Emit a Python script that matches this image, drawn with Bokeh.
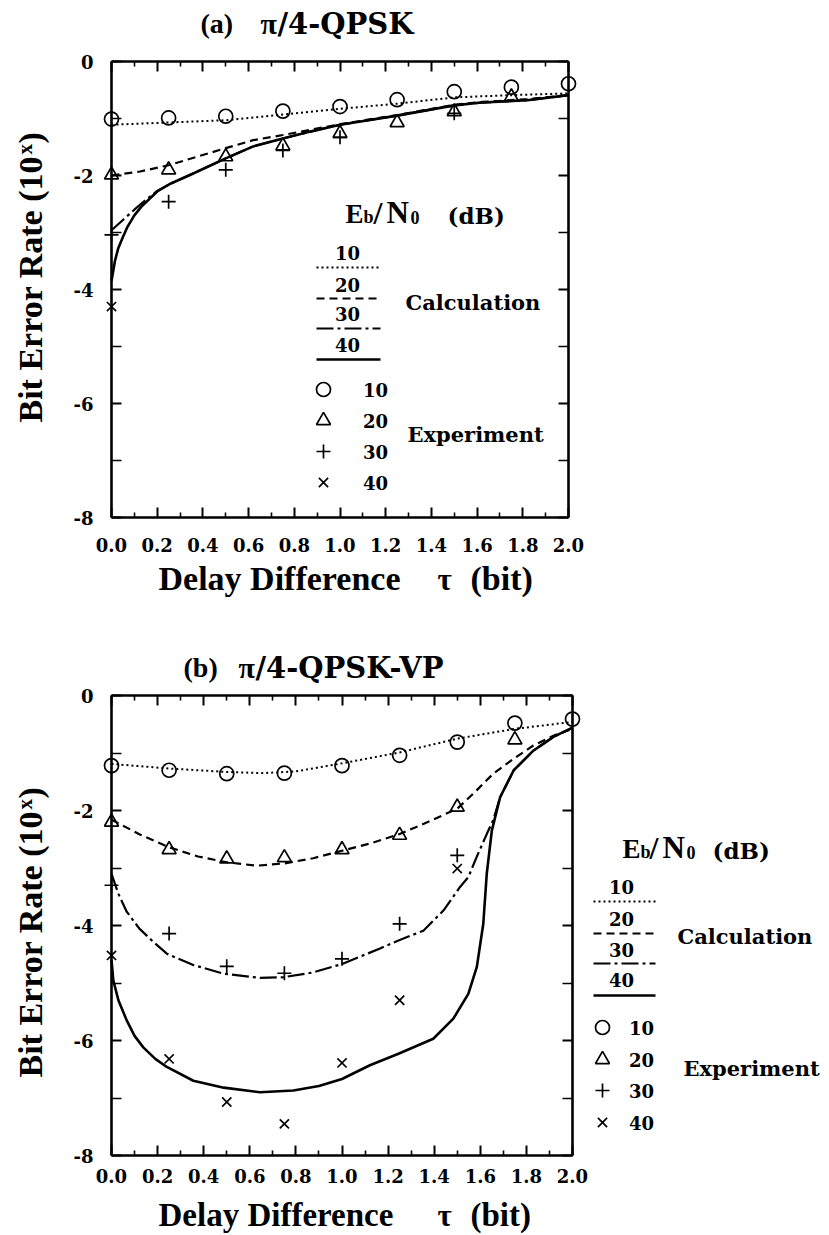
import math

from bokeh.plotting import figure
from bokeh.layouts import column
from bokeh.models import Range1d, LinearAxis, FixedTicker, Label
from bokeh.embed import file_html
from bokeh.resources import INLINE

# ---------------------------------------------------------------- data
# Delay difference tau (bit) and log10(bit error rate) for each Eb/N0 level.

# (a) pi/4-QPSK -- measurements
a_exp10_tau = [0.0, 0.25, 0.5, 0.75, 1.0, 1.25, 1.5, 1.75, 2.0]
a_exp10 = [-1.01, -0.99, -0.96, -0.87, -0.79, -0.67, -0.53, -0.45, -0.39]
a_exp20_tau = [0.0, 0.25, 0.5, 0.75, 1.0, 1.25, 1.5, 1.75]
a_exp20 = [-1.99, -1.90, -1.67, -1.48, -1.26, -1.07, -0.88, -0.62]
a_exp30_tau = [0.0, 0.25, 0.5, 0.75, 1.0, 1.5]
a_exp30 = [-3.04, -2.46, -1.90, -1.56, -1.33, -0.91]
a_exp40_tau = [0.0]
a_exp40 = [-4.30]

# (a) pi/4-QPSK -- calculation
a_calc10_tau = [0.0, 0.25, 0.5, 0.75, 1.0, 1.25, 1.5, 1.75, 2.0]
a_calc10 = [-1.11, -1.07, -1.03, -0.93, -0.83, -0.74, -0.63, -0.59, -0.56]
a_calc20_tau = [0.0, 0.125, 0.25, 0.375, 0.5, 0.62, 0.75, 0.87, 1.0, 1.25, 1.5, 1.62, 1.82, 2.0]
a_calc20 = [-2.0, -1.93, -1.82, -1.67, -1.52, -1.38, -1.29, -1.2, -1.1, -0.94, -0.76, -0.71, -0.66, -0.59]
a_calc30_tau = [0.0, 0.05, 0.1, 0.15, 0.2, 0.26, 0.36, 0.5, 0.62, 0.75, 0.87, 1.0, 1.25, 1.5, 1.62, 1.82, 2.0]
a_calc30 = [-2.96, -2.78, -2.6, -2.43, -2.27, -2.14, -1.96, -1.70, -1.49, -1.35, -1.23, -1.11, -0.95, -0.77, -0.72,
            -0.68, -0.59]
a_calc40_tau = [0.0, 0.015, 0.03, 0.05, 0.07, 0.1, 0.13, 0.2, 0.26, 0.36, 0.5, 0.62, 0.75, 0.87, 1.0, 1.25, 1.5,
                1.62, 1.82, 2.0]
a_calc40 = [-3.85, -3.5, -3.27, -3.08, -2.9, -2.7, -2.55, -2.28, -2.14, -1.96, -1.70, -1.49, -1.35, -1.23, -1.11,
            -0.95, -0.77, -0.72, -0.68, -0.59]

# (b) pi/4-QPSK-VP -- measurements
b_exp10_tau = [0.0, 0.25, 0.5, 0.75, 1.0, 1.25, 1.5, 1.75, 2.0]
b_exp10 = [-1.22, -1.30, -1.36, -1.35, -1.22, -1.04, -0.81, -0.48, -0.41]
b_exp20_tau = [0.0, 0.25, 0.5, 0.75, 1.0, 1.25, 1.5, 1.75]
b_exp20 = [-2.20, -2.68, -2.84, -2.82, -2.68, -2.43, -1.94, -0.77]
b_exp30_tau = [0.0, 0.25, 0.5, 0.75, 1.0, 1.25, 1.5]
b_exp30 = [-3.30, -4.14, -4.71, -4.83, -4.58, -3.97, -2.78]
b_exp40_tau = [0.0, 0.25, 0.5, 0.75, 1.0, 1.25, 1.5]
b_exp40 = [-4.52, -6.32, -7.07, -7.45, -6.39, -5.30, -3.01]

# (b) pi/4-QPSK-VP -- calculation
b_calc10_tau = [0.0, 0.25, 0.5, 0.65, 0.8, 1.0, 1.25, 1.5, 1.75, 2.0]
b_calc10 = [-1.19, -1.27, -1.33, -1.35, -1.32, -1.18, -0.99, -0.75, -0.58, -0.46]
b_calc20_tau = [0.0, 0.125, 0.25, 0.375, 0.5, 0.63, 0.75, 0.875, 1.0, 1.125, 1.25, 1.355, 1.5, 1.584, 1.656,
                1.745, 1.83, 1.917, 2.0]
b_calc20 = [-2.16, -2.42, -2.64, -2.80, -2.90, -2.96, -2.92, -2.83, -2.70, -2.57, -2.41, -2.23, -1.97, -1.65,
            -1.36, -1.10, -0.87, -0.70, -0.58]
b_calc30_tau = [0.0, 0.03, 0.066, 0.12, 0.18, 0.24, 0.35, 0.487, 0.644, 0.745, 0.87, 1.0, 1.165, 1.245, 1.353,
                1.44, 1.512, 1.548, 1.584, 1.628, 1.656, 1.686, 1.745, 1.83, 1.917, 2.0]
b_calc30 = [-3.10, -3.45, -3.76, -4.05, -4.28, -4.49, -4.68, -4.84, -4.91, -4.90, -4.82, -4.67, -4.40, -4.26,
            -4.09, -3.74, -3.33, -3.16, -2.81, -2.41, -2.17, -1.77, -1.30, -0.96, -0.72, -0.56]
b_calc40_tau = [0.0, 0.008, 0.03, 0.066, 0.1, 0.138, 0.19, 0.24, 0.355, 0.487, 0.644, 0.789, 0.9, 1.0, 1.121,
                1.245, 1.396, 1.483, 1.548, 1.585, 1.613, 1.628, 1.65, 1.686, 1.745, 1.83, 1.917, 2.0]
b_calc40 = [-4.6, -4.96, -5.3, -5.65, -5.92, -6.12, -6.32, -6.46, -6.70, -6.82, -6.90, -6.87, -6.79, -6.67, -6.43,
            -6.23, -5.97, -5.62, -5.19, -4.72, -3.97, -3.10, -2.35, -1.77, -1.30, -0.96, -0.72, -0.56]

# Eb/N0 levels (dB) and tick labels
levels = ["10", "20", "30", "40"]
x_major = [0.0, 0.2, 0.4, 0.6, 0.8, 1.0, 1.2, 1.4, 1.6, 1.8, 2.0]
x_minor = [0.1, 0.3, 0.5, 0.7, 0.9, 1.1, 1.3, 1.5, 1.7, 1.9]
x_tick_labels = ["0.0", "0.2", "0.4", "0.6", "0.8", "1.0", "1.2", "1.4", "1.6", "1.8", "2.0"]
y_major = [0, -2, -4, -6, -8]
y_minor = [-1, -3, -5, -7]
y_tick_labels = ["0", "-2", "-4", "-6", "-8"]

# ---------------------------------------------------------------- styling
TIMES = "Liberation Serif"
SLAB = "DejaVu Serif"
W = 829
MID = 0.34  # distance from the em-box middle up to the baseline, in em

CALC_DASH = ["2 3", "8 5", "17 4 3 4", "solid"]
CALC_WIDTH = [2.0, 2.2, 2.2, 2.6]
MARKERS = ["circle", "triangle", "cross", "x"]
MARKER_SIZE = [14, 14, 14, 13]


def panel(height, g):
    """Figure whose plotting area covers the whole canvas; the axis box is
    placed at page pixels x0..x2 (tau 0..2) and y0..y8 (0..-8)."""
    sx = (g["x2"] - g["x0"]) / 2.0
    sy = (g["y8"] - g["y0"]) / 8.0
    p = figure(width=W, height=height,
               x_range=Range1d(-g["x0"] / sx, (W - g["x0"]) / sx),
               y_range=Range1d((g["y0"] - g["top"] - height) / sy, (g["y0"] - g["top"]) / sy),
               output_backend="svg", toolbar_location=None,
               x_axis_location=None, y_axis_location=None,
               min_border=0, min_border_left=0, min_border_right=0,
               min_border_top=0, min_border_bottom=0)
    p.grid.visible = False
    p.outline_line_color = None
    p.background_fill_color = "white"
    p.border_fill_color = "white"

    def to_data(px, py):
        return (px - g["x0"]) / sx, (g["y0"] - py) / sy

    return p, to_data


def add_box_axes(p, g):
    xt = FixedTicker(ticks=x_major, minor_ticks=x_minor)
    yt = FixedTicker(ticks=y_major, minor_ticks=y_minor)
    base = dict(axis_line_width=2.6, axis_line_color="black",
                major_tick_line_width=2, minor_tick_line_width=1.6,
                major_tick_line_color="black", minor_tick_line_color="black",
                major_tick_out=0, minor_tick_out=0,
                major_label_text_font=SLAB, major_label_text_font_style="bold",
                major_label_text_font_size="18px", major_label_text_color="black")
    hidden = dict(base, major_label_text_color=None)

    bottom = LinearAxis(ticker=xt, fixed_location=-8, bounds=(0, 2),
                        major_tick_in=10, minor_tick_in=5,
                        major_label_overrides=dict(zip(x_major, x_tick_labels)),
                        major_label_standoff=g["xtick_standoff"], **base)
    top = LinearAxis(ticker=xt, fixed_location=0, bounds=(0, 2),
                     major_tick_in=10, minor_tick_in=5, **hidden)
    left = LinearAxis(ticker=yt, fixed_location=0, bounds=(-8, 0),
                      major_tick_in=10, minor_tick_in=10,
                      major_label_overrides=dict(zip(y_major, y_tick_labels)),
                      major_label_standoff=18, **base)
    right = LinearAxis(ticker=yt, fixed_location=2, bounds=(-8, 0),
                       major_tick_in=10, minor_tick_in=10, **hidden)
    p.add_layout(bottom, "below")
    p.add_layout(top, "above")
    p.add_layout(left, "left")
    p.add_layout(right, "right")


def add_curves(p, calc, meas):
    for (tx, ty), dash, lw in zip(calc, CALC_DASH, CALC_WIDTH):
        p.line(tx, ty, line_color="black", line_width=lw, line_dash=dash)
    for (tx, ty), mk, ms in zip(meas, MARKERS, MARKER_SIZE):
        p.scatter(tx, ty, marker=mk, size=ms, fill_color=None,
                  line_color="black", line_width=1.7)


def text(p, at, px, py, s, font, size, align="left", angle=0.0):
    """Text centred vertically on page pixel row py."""
    x, y = at(px, py)
    p.add_layout(Label(x=x, y=y, text=s, text_font=font, text_font_style="bold",
                       text_font_size=f"{size}px", text_color="black",
                       text_align=align, text_baseline="middle", angle=angle))


def on_baseline(p, at, px, base, s, font, size, align="left"):
    """Text sitting on the page pixel row base."""
    text(p, at, px, base - MID * size, s, font, size, align=align)


def draw_titles(p, at, t):
    # panel title
    b = t["title_base"]
    on_baseline(p, at, t["tag_x"], b, t["tag"], TIMES, 28)
    on_baseline(p, at, t["pi_x"], b, "π", TIMES, 30)
    on_baseline(p, at, t["pi_x"] + 17, b, t["name"], SLAB, 29)
    # x axis title
    xb = t["xlab_base"]
    on_baseline(p, at, 158, xb, "Delay Difference", TIMES, t["xlab_size"])
    on_baseline(p, at, t["tau_x"], xb, "τ", TIMES, 31)
    on_baseline(p, at, t["tau_x"] + 33, xb, "(bit)", TIMES, t["xlab_size"])
    # y axis title, reading upwards, with a raised x on the power of ten
    up = math.pi / 2
    y0 = t["ylab_start"]
    text(p, at, 30, y0, "Bit Error Rate (10", TIMES, 34, angle=up)
    text(p, at, 24, y0 - 268, "x", TIMES, 21, angle=up)
    text(p, at, 30, y0 - 279, ")", TIMES, 34, angle=up)


def draw_key(p, at, k):
    # "Eb/N0 (dB)" with the b and 0 set small
    ex, eb = k["head"]
    pieces = [("E", TIMES, 27), ("b", TIMES, 18), ("/", TIMES, 32), ("N", TIMES, 31),
              ("0", TIMES, 18), ("(dB)", SLAB, 23)]
    for (s, font, size), off in zip(pieces, k["head_offsets"]):
        on_baseline(p, at, ex + off, eb, s, font, size)

    # calculated curves: level above its line sample
    lx0, lx1 = k["line_x"]
    for lev, ny, ly, dash, lw in zip(levels, k["num_y"], k["line_y"], CALC_DASH, CALC_WIDTH):
        text(p, at, k["num_x"], ny, lev, SLAB, 18, align="center")
        (x0, y0), (x1, y1) = at(lx0, ly), at(lx1, ly)
        p.line([x0, x1], [y0, y1], line_color="black", line_width=lw, line_dash=dash)
    text(p, at, k["calc_label"][0], k["calc_label"][1], "Calculation", SLAB, 21)

    # measured points: marker then level
    for lev, my, mk, ms in zip(levels, k["mark_y"], MARKERS, MARKER_SIZE):
        mx_, my_ = at(k["mark_x"], my)
        p.scatter([mx_], [my_], marker=mk, size=ms, fill_color=None,
                  line_color="black", line_width=1.7)
        text(p, at, k["mark_num_x"], my, lev, SLAB, 18, align="center")
    text(p, at, k["exp_label"][0], k["exp_label"][1], "Experiment", SLAB, 21)


# ---------------------------------------------------------------- (a)
GA = dict(top=0, x0=111, x2=568, y0=61, y8=517, xtick_standoff=20)
pa, at_a = panel(620, GA)
add_box_axes(pa, GA)
add_curves(pa,
           [(a_calc10_tau, a_calc10), (a_calc20_tau, a_calc20), (a_calc30_tau, a_calc30), (a_calc40_tau, a_calc40)],
           [(a_exp10_tau, a_exp10), (a_exp20_tau, a_exp20), (a_exp30_tau, a_exp30), (a_exp40_tau, a_exp40)])
draw_titles(pa, at_a, dict(tag="(a)", tag_x=200, pi_x=260, name="/4-QPSK", title_base=33,
                           xlab_base=590, xlab_size=34, tau_x=437, ylab_start=422))
draw_key(pa, at_a, dict(head=(345, 223), head_offsets=[0, 18, 28, 41, 65, 102],
                        num_x=347, num_y=[252, 284, 313, 344], line_y=[267, 298, 328, 359], line_x=(316, 380),
                        calc_label=(405, 302),
                        mark_x=323, mark_y=[389, 420, 451, 482], mark_num_x=375,
                        exp_label=(407, 434)))

# ---------------------------------------------------------------- (b)
GB = dict(top=620, x0=111, x2=572, y0=695, y8=1155, xtick_standoff=13)
pb, at_b = panel(615, GB)
add_box_axes(pb, GB)
add_curves(pb,
           [(b_calc10_tau, b_calc10), (b_calc20_tau, b_calc20), (b_calc30_tau, b_calc30), (b_calc40_tau, b_calc40)],
           [(b_exp10_tau, b_exp10), (b_exp20_tau, b_exp20), (b_exp30_tau, b_exp30), (b_exp40_tau, b_exp40)])
draw_titles(pb, at_b, dict(tag="(b)", tag_x=183, pi_x=238, name="/4-QPSK-VP", title_base=677,
                           xlab_base=1226, xlab_size=33, tau_x=437, ylab_start=1077))
draw_key(pb, at_b, dict(head=(622, 858), head_offsets=[0, 18, 27, 40, 64, 90],
                        num_x=621, num_y=[886, 918, 949, 979], line_y=[901, 933, 963, 995], line_x=(593, 655),
                        calc_label=(677, 936),
                        mark_x=602, mark_y=[1027, 1059, 1090, 1122], mark_num_x=641,
                        exp_label=(683, 1068)))

layout = column(pa, pb)
open("out.html", "w").write(file_html(layout, INLINE))
